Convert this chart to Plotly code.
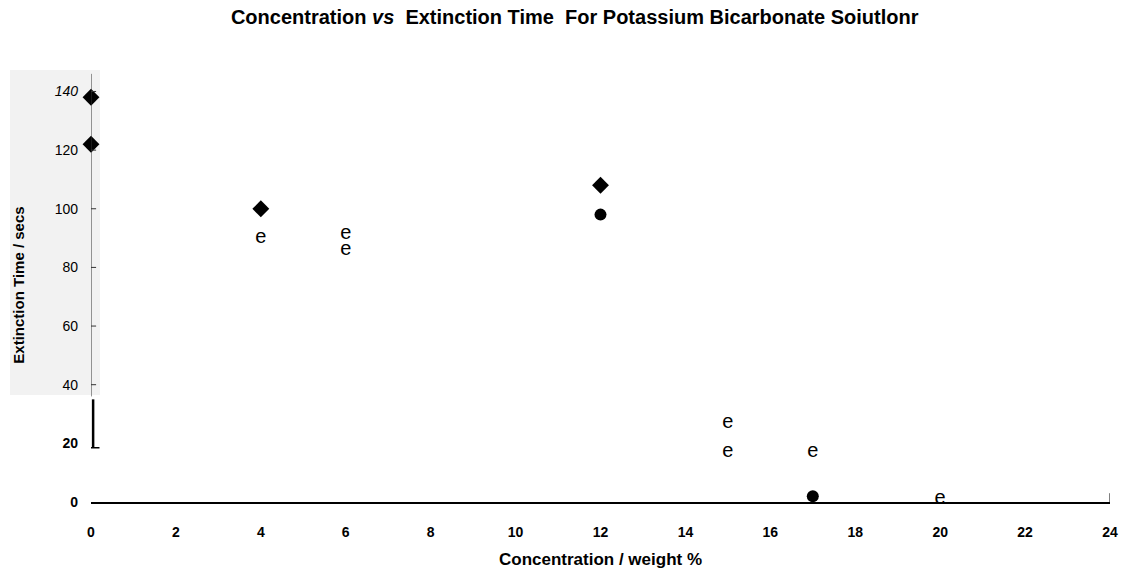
import plotly.graph_objects as go

# Data
diamond_x = [0, 0, 4, 12]
diamond_y = [138, 122, 100, 108]
circle_x = [12, 17]
circle_y = [98, 2]
open_x = [4, 6, 6, 15, 15, 17, 20]
open_y = [90, 91.5, 86, 27, 17, 17, 1]

x_ticks = [0, 2, 4, 6, 8, 10, 12, 14, 16, 18, 20, 22, 24]
y_ticks = [0, 20, 40, 60, 80, 100, 120, 140]

W, H = 1129, 571
L, R, T, B = 91, 19, 68, 69
PH = H - T - B

fig = go.Figure()
fig.add_trace(go.Scatter(x=diamond_x, y=diamond_y, mode="markers", cliponaxis=False,
                         marker=dict(symbol="diamond", size=13, color="black"),
                         showlegend=False, hoverinfo="x+y"))
fig.add_trace(go.Scatter(x=circle_x, y=circle_y, mode="markers", cliponaxis=False,
                         marker=dict(symbol="circle", size=12, color="black"),
                         showlegend=False, hoverinfo="x+y"))
fig.add_trace(go.Scatter(x=open_x, y=open_y, mode="text", text=["e"] * len(open_x),
                         cliponaxis=False,
                         textfont=dict(family="Liberation Sans, Arial", size=20, color="black"),
                         textposition="middle center", showlegend=False, hoverinfo="x+y"))

shapes = [
    # light grey scan patch behind the y axis
    dict(type="rect", xref="paper", yref="paper", layer="below",
         x0=-81 / (W - L - R), x1=9 / (W - L - R),
         y0=(H - B - 395) / PH, y1=(H - B - 70) / PH,
         fillcolor="#f2f2f2", line=dict(width=0)),
    # thin y-axis line (upper part)
    dict(type="line", xref="x", yref="y", x0=0, x1=0, y0=36, y1=146,
         line=dict(color="#333", width=1)),
    # thick lower segment
    dict(type="line", xref="x", yref="y", x0=0.05, x1=0.05, y0=18.5, y1=35,
         line=dict(color="black", width=2.5)),
    dict(type="line", xref="x", yref="y", x0=-0.1, x1=0.2, y0=18.5, y1=18.5,
         line=dict(color="black", width=1.5)),
    # end tick at 24
    dict(type="line", xref="x", yref="y", x0=24, x1=24, y0=-2, y1=3,
         line=dict(color="black", width=1)),
]
# y tick marks
for v in y_ticks[2:]:
    shapes.append(dict(type="line", xref="x", yref="y", x0=-0.12, x1=0.12, y0=v, y1=v,
                       line=dict(color="#333", width=1)))

fig.update_layout(
    width=W, height=H,
    margin=dict(l=L, r=R, t=T, b=B, autoexpand=False),
    paper_bgcolor="white", plot_bgcolor="rgba(0,0,0,0)",
    font=dict(family="Liberation Sans, Arial", color="black"),
    title=dict(text="<b>Concentration <i>vs</i>  Extinction Time  For Potassium Bicarbonate Soiutlonr</b>",
               x=0.509, xanchor="center", y=0.97, yanchor="middle",
               font=dict(size=20, color="black")),
    xaxis=dict(range=[0, 24], tickvals=x_ticks, ticktext=[f"<b>{v}</b>" for v in x_ticks],
               automargin=False,
               showgrid=False, zeroline=False, showline=True, linecolor="black", linewidth=2,
               ticks="", tickfont=dict(size=14), ticklabelstandoff=16,
               title=dict(text="<b>Concentration / weight %</b>", font=dict(size=17), standoff=14)),
    yaxis=dict(range=[0, 148], tickvals=y_ticks, automargin=False,
               ticktext=["<b>0</b>", "<b>20</b>", "40", "60", "80", "100", "120", "<i>140</i>"],
               showgrid=False, zeroline=False, showline=False, ticks="",
               tickfont=dict(size=14), ticklabelstandoff=12,
               title=dict(text="<b>Extinction Time / secs</b>", font=dict(size=15), standoff=26)),
    shapes=shapes,
)

fig.write_html("out.html")
